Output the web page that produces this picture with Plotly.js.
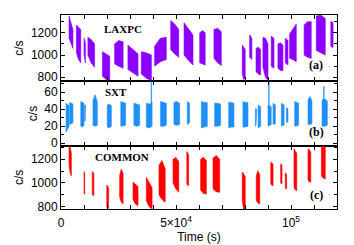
<!DOCTYPE html>
<html><head><meta charset="utf-8">
<script src="https://cdn.plot.ly/plotly-3.0.1.min.js"></script>
<style>html,body{margin:0;padding:0;background:#fff}</style>
</head><body><div id="chart" style="width:354px;height:245px"></div>
<script>
// ---- DATA (segments separated by null) ----
const laxpcTime = [3500,4300,5200,null,6700,7600,8600,null,10000,10300,10600,null,11700,13100,14600,null,18000,19600,21200,null,23300,25100,27000,null,29100,31300,33500,null,34900,37100,39300,null,40700,43200,45800,null,47700,49400,51200,null,53500,55400,57400,null,60300,61500,62700,null,66500,68100,69700,null,78800,79400,80100,null,82000,82500,83000,null,84800,85800,86800,null,87800,88900,90000,null,91400,92000,92600,null,94300,95400,96500,null,97500,98100,98700,null,99400,100800,102300,null,105700,107200,108800,null,111000,112900,114900,null,117300,117800,118300];
const laxpcHigh = [1350,1300,1230,null,1270,1250,1230,null,1150,1130,1110,null,1160,1140,1100,null,1030,1010,990,null,1100,1130,1120,null,1090,1050,1010,null,1030,1020,1000,null,1080,1150,1160,null,1310,1280,1230,null,1290,1240,1180,null,1200,1220,1200,null,1230,1240,1210,null,1090,1070,1050,null,1180,1170,1150,null,1060,1070,1050,null,1160,1150,1100,null,1170,1160,1150,null,1100,1110,1090,null,1150,1140,1130,null,1190,1230,1280,null,1270,1300,1300,null,1350,1360,1330,null,1300,1300,1290];
const laxpcLow  = [1150,1100,1060,null,1020,960,930,null,1000,960,930,null,1000,930,890,null,810,780,770,null,920,900,880,null,870,840,810,null,830,790,770,null,900,940,960,null,1050,1010,980,null,1000,950,910,null,930,920,910,null,970,930,905,null,830,780,790,null,980,970,960,null,850,830,820,null,890,800,770,null,900,890,880,null,880,860,860,null,930,920,910,null,970,960,940,null,1000,980,970,null,1040,1020,1000,null,1080,1070,1070];

const sxtTime = [2200,2800,3500,null,3800,4500,5200,null,8600,9300,10000,null,10300,10500,10700,null,13900,14800,15800,null,20100,21000,21900,null,26000,27000,28100,null,31700,33000,34200,null,37100,38400,39600,null,43300,44500,45800,null,49100,50300,51600,null,54900,55400,55900,null,61000,62300,63600,null,66800,68100,69400,null,72900,74000,75200,null,79100,80200,81300,null,84500,84800,85100,null,85700,86200,86800,null,90000,90700,91400,null,92200,92700,93200,null,95800,96400,97000,null,98000,98300,98700,null,101600,102400,103300,null,107400,108200,109100,null,113500,114600,115800,null,39200,39300,39400,null,90300,90400,90500,null,114200,114300,114400];
const sxtHigh = [47,45,44,null,48,47,46,null,49,48,47,null,45,45,44,null,50,57,49,null,45,46,44,null,49,48,47,null,47,46,45,null,47,46,48,null,49,48,47,null,48,49,47,null,49,48,47,null,49,48,48,null,47,47,46,null,48,48,47,null,49,48,48,null,40,41,40,null,45,44,43,null,45,44,43,null,47,46,45,null,47,46,45,null,42,41,40,null,49,48,47,null,51,55,50,null,51,52,50,null,72,73,72,null,72,73,72,null,66,67,66];
const sxtLow  = [13,15,20,null,22,23,24,null,20,19,21,null,26,26,27,null,21,20,21,null,19,18,20,null,20,20,21,null,21,20,21,null,19,18,20,null,20,20,21,null,22,21,22,null,22,23,24,null,18,19,20,null,20,20,21,null,18,19,19,null,19,19,20,null,20,21,22,null,18,19,20,null,20,21,22,null,22,22,23,null,20,21,21,null,24,25,25,null,20,20,21,null,22,22,23,null,20,20,21,null,44,44,44,null,44,44,44,null,50,50,50];

const commonTime = [3500,4000,4500,null,10000,10150,10300,null,13600,13950,14300,null,19900,20300,20700,null,25500,26200,27000,null,31300,32400,33500,null,37100,38300,39600,null,42600,43900,45300,null,48700,49900,51200,null,54700,55100,55500,null,60700,61900,63200,null,66100,67500,69000,null,78800,79400,80100,null,84900,85600,86400,null,91200,91700,92200,null,95500,95800,96100,null,97500,97800,98100,null,101300,101900,102500,null,107400,108000,108600,null,113200,114000,114900];
const commonHigh = [1315,1300,1250,null,1096,1090,1080,null,1096,1090,1080,null,983,975,960,null,1060,1118,1080,null,1006,990,970,null,1048,1000,960,null,1150,1189,1120,null,1200,1217,1180,null,1265,1250,1240,null,1200,1217,1190,null,1210,1231,1200,null,1090,1080,1050,null,1060,1104,1070,null,1175,1170,1160,null,1161,1155,1150,null,1085,1080,1075,null,1287,1270,1250,null,1287,1280,1260,null,1315,1310,1300];
const commonLow  = [1150,1080,1060,null,910,905,907,null,900,893,895,null,800,780,790,null,880,840,823,null,860,820,808,null,850,800,780,null,900,860,837,null,1000,950,921,null,990,980,977,null,940,910,907,null,950,925,921,null,850,780,780,null,850,830,823,null,990,980,977,null,1000,995,992,null,955,950,949,null,960,940,935,null,1020,1010,1006,null,1060,1040,1034];

const xTickVals = [0, 50000, 100000];
const xTickText = ['0', '5×10<sup>4</sup>', '10<sup>5</sup>'];

// ---- build polygons ----
function polys(t, hi, lo){
  const X=[],Y=[]; let seg=[];
  const flush=()=>{ if(!seg.length) return;
    seg.forEach(i=>{X.push(t[i]);Y.push(hi[i]);});
    seg.slice().reverse().forEach(i=>{X.push(t[i]);Y.push(lo[i]);});
    X.push(t[seg[0]]);Y.push(hi[seg[0]]);
    X.push(null);Y.push(null); seg=[]; };
  for(let i=0;i<t.length;i++){ if(t[i]===null) flush(); else seg.push(i); }
  flush();
  return {X,Y};
}
const cols = {a:'#8c00ff', b:'#1e8ff5', c:'#ff0000'};
function tr(t,hi,lo,col,xa,ya){
  const p=polys(t,hi,lo);
  return {x:p.X,y:p.Y,xaxis:xa,yaxis:ya,type:'scatter',mode:'lines',fill:'toself',
    fillcolor:col,line:{color:col,width:0.6},hoverinfo:'skip',connectgaps:false};
}
const data=[
  tr(laxpcTime,laxpcHigh,laxpcLow,cols.a,'x','y'),
  tr(sxtTime,sxtHigh,sxtLow,cols.b,'x2','y2'),
  tr(commonTime,commonHigh,commonLow,cols.c,'x3','y3')
];

const xBase = {range:[0,120000],showline:true,linecolor:'black',linewidth:1,mirror:'ticks',
  ticks:'inside',ticklen:4,tickcolor:'black',tickvals:xTickVals,ticktext:xTickText,
  minor:{dtick:10000,tick0:0,ticks:'inside',ticklen:4,tickcolor:'black'},
  showgrid:false,zeroline:false,fixedrange:true};
const yBase = {showline:true,linecolor:'black',linewidth:1,mirror:'ticks',ticks:'inside',
  ticklen:4,tickcolor:'black',showgrid:false,zeroline:false,
  title:{text:'c/s',font:{size:12},standoff:4}};

const serif = 'Liberation Serif, Times New Roman, serif';
function ann(text,xr,yr,x,y,size){
  return {text:text,xref:xr,yref:yr,x:x,y:y,xanchor:'center',yanchor:'middle',showarrow:false,font:{family:serif,size:size}};
}
const layout={
  width:354,height:245,margin:{l:61,r:17,t:15,b:36},
  paper_bgcolor:'white',plot_bgcolor:'white',showlegend:false,
  font:{family:'Liberation Sans, Arial, sans-serif',size:12,color:'black'},
  xaxis:Object.assign({},xBase,{anchor:'y',showticklabels:false}),
  xaxis2:Object.assign({},xBase,{anchor:'y2',showticklabels:false}),
  xaxis3:Object.assign({},xBase,{anchor:'y3',showticklabels:true,ticklabelstandoff:3,
     title:{text:'Time (s)',font:{size:12},standoff:0}}),
  yaxis:Object.assign({},yBase,{domain:[0.659,1],range:[765,1360],tickvals:[800,1000,1200],
     minor:{dtick:100,tick0:0,ticks:'inside',ticklen:3,tickcolor:'black'}}),
  yaxis2:Object.assign({},yBase,{domain:[0.326,0.659],range:[-3,73],tickvals:[0,20,40,60],
     minor:{dtick:10,tick0:0,ticks:'inside',ticklen:3,tickcolor:'black'}}),
  yaxis3:Object.assign({},yBase,{domain:[0,0.326],range:[780,1314],tickvals:[800,1000,1200],
     minor:{dtick:100,tick0:0,ticks:'inside',ticklen:3,tickcolor:'black'}}),
  annotations:[
    ann('<b>LAXPC</b>','x domain','y domain',0.225,0.785,11),
    ann('<b>SXT</b>','x2 domain','y2 domain',0.2,0.83,11),
    ann('<b>COMMON</b>','x3 domain','y3 domain',0.221,0.818,11),
    ann('<b>(a)</b>','x domain','y domain',0.924,0.238,12),
    ann('<b>(b)</b>','x2 domain','y2 domain',0.927,0.22,12),
    ann('<b>(c)</b>','x3 domain','y3 domain',0.924,0.22,12)
  ]
};
Plotly.newPlot('chart',data,layout,{staticPlot:true,displayModeBar:false});
</script></body></html>
